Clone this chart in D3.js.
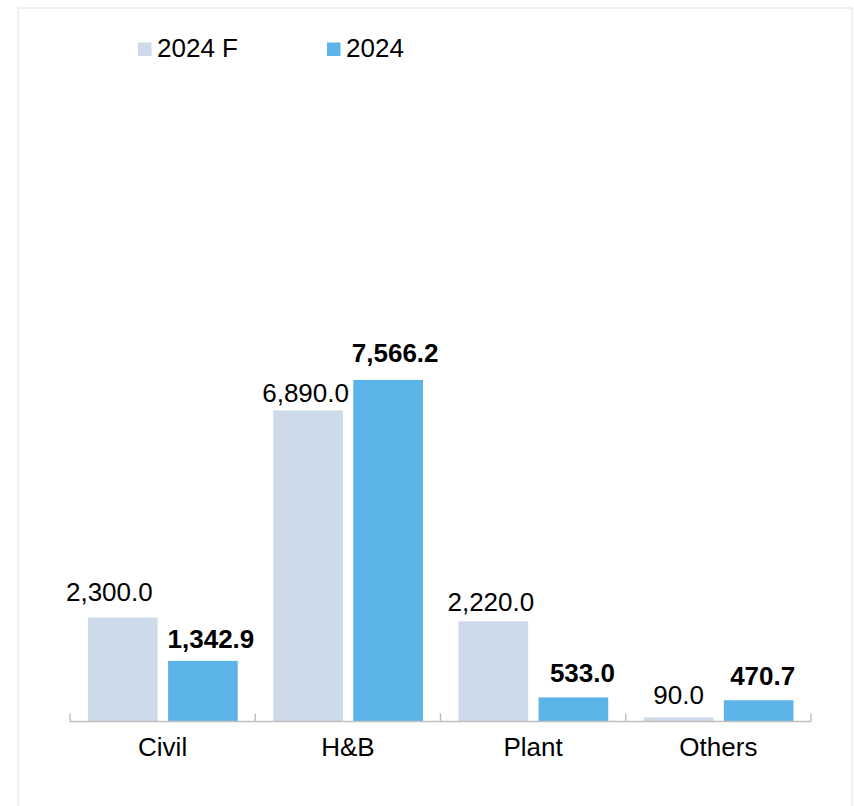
<!DOCTYPE html>
<html>
<head>
<meta charset="utf-8">
<script src="https://cdn.jsdelivr.net/npm/d3@7"></script>
<style>
  html, body { margin: 0; padding: 0; background: #fff; }
  svg { display: block; }
  text { font-family: "Liberation Sans", Arial, sans-serif; fill: #000; }
</style>
</head>
<body>
<svg class="svg"></svg>
<script>
const categories = ['Civil', 'H&B', 'Plant', 'Others'];
const seriesNames = ['2024 F', '2024'];
const forecast = [2300.0, 6890.0, 2220.0, 90.0];
const actual = [1342.9, 7566.2, 533.0, 470.7];

const width = 854;
const height = 806;
const lightColor = '#cddaea';
const blueColor = '#5bb3e7';
const axisColor = '#bfbfbf';
const fontSize = 26;

// hand-placed label nudges (dx, gap above bar) per category: [forecast, actual]
const labelNudge = [
  [[-13.5, 16.5], [8, 12.5]],
  [[-2.5, 8], [7, 18]],
  [[-2.5, 10], [9, 15]],
  [[0, 13.5], [4, 15.5]]
];

const svg = d3.select('.svg')
  .attr('width', width)
  .attr('height', height);

// outer frame (top, left, right only)
svg.append('path')
  .attr('d', 'M 18 806 L 18 8 L 852 8 L 852 806')
  .attr('fill', 'none')
  .attr('stroke', '#efefef')
  .attr('stroke-width', 2);

const x0 = d3.scaleBand()
  .domain(categories)
  .range([70, 811]);

const x1 = d3.scaleBand()
  .domain(seriesNames)
  .range([18, x0.bandwidth() - 17.5])
  .paddingInner(0.13);

const y = d3.scaleLinear()
  .domain([0, 9000])
  .range([721.5, 315.2]);

const rows = categories.map((c, i) => ({
  cat: c,
  vals: [
    { key: seriesNames[0], v: forecast[i], nudge: labelNudge[i][0] },
    { key: seriesNames[1], v: actual[i], nudge: labelNudge[i][1] }
  ]
}));

const color = d3.scaleOrdinal().domain(seriesNames).range([lightColor, blueColor]);
const fmt = d3.format(',.1f');

const group = svg.append('g')
  .selectAll('g')
  .data(rows)
  .join('g')
  .attr('transform', d => `translate(${x0(d.cat)},0)`);

group.selectAll('rect')
  .data(d => d.vals)
  .join('rect')
  .attr('x', d => x1(d.key))
  .attr('y', d => y(d.v))
  .attr('width', x1.bandwidth())
  .attr('height', d => y(0) - y(d.v))
  .attr('fill', d => color(d.key));

group.selectAll('text.val')
  .data(d => d.vals)
  .join('text')
  .attr('class', 'val')
  .attr('x', d => x1(d.key) + x1.bandwidth() / 2 + d.nudge[0])
  .attr('y', d => y(d.v) - d.nudge[1])
  .attr('text-anchor', 'middle')
  .style('font-size', fontSize + 'px')
  .style('font-weight', d => d.key === '2024' ? 'bold' : 'normal')
  .text(d => fmt(d.v));

// x axis with inward ticks
const axis = svg.append('g')
  .attr('transform', `translate(0,${y(0)})`);

axis.append('line')
  .attr('x1', x0.range()[0])
  .attr('x2', x0.range()[1])
  .attr('stroke', axisColor)
  .attr('stroke-width', 1.5);

const tickPos = categories.map(c => x0(c)).concat([x0.range()[1]]);
axis.selectAll('line.tick')
  .data(tickPos)
  .join('line')
  .attr('class', 'tick')
  .attr('x1', d => d)
  .attr('x2', d => d)
  .attr('y1', 0)
  .attr('y2', -8)
  .attr('stroke', axisColor)
  .attr('stroke-width', 1.5);

axis.selectAll('text')
  .data(categories)
  .join('text')
  .attr('x', d => x0(d) + x0.bandwidth() / 2)
  .attr('y', 34)
  .attr('text-anchor', 'middle')
  .style('font-size', fontSize + 'px')
  .text(d => d);

// legend
const legendX = [138, 327];
const legend = svg.append('g')
  .selectAll('g')
  .data(seriesNames)
  .join('g')
  .attr('transform', (d, i) => `translate(${legendX[i]},0)`);

legend.append('rect')
  .attr('x', 0)
  .attr('y', 42.5)
  .attr('width', 13.5)
  .attr('height', 13.5)
  .attr('fill', d => color(d));

legend.append('text')
  .attr('x', 19)
  .attr('y', 56.5)
  .style('font-size', fontSize + 'px')
  .text(d => d);
</script>
</body>
</html>
